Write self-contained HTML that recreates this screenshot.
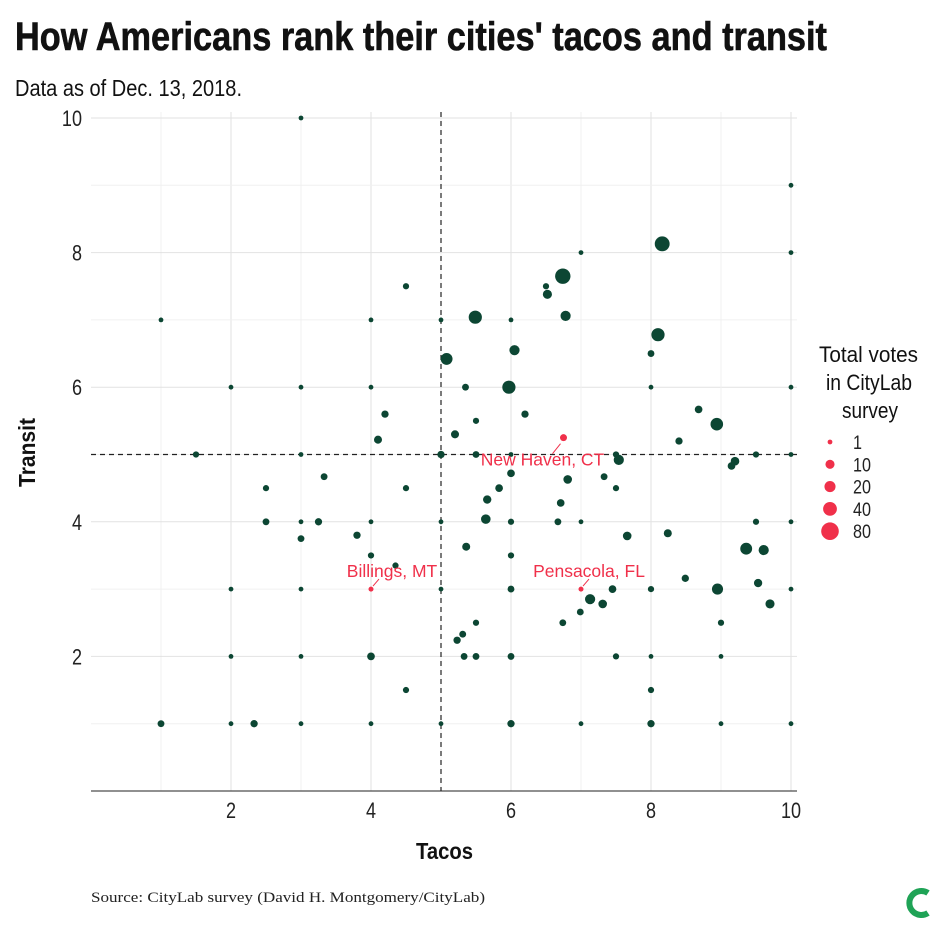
<!DOCTYPE html>
<html><head><meta charset="utf-8"><style>
body{margin:0;background:#fff;width:940px;height:926px;overflow:hidden}
svg text{font-family:"Liberation Sans Narrow","Liberation Sans",sans-serif}
</style></head><body>
<svg id="chart" width="940" height="926" xmlns="http://www.w3.org/2000/svg">
<text x="15" y="50" font-size="40" font-weight="bold" fill="#111" stroke="#111" stroke-width="0.6" textLength="812" lengthAdjust="spacingAndGlyphs">How Americans rank their cities' tacos and transit</text>
<text x="15" y="96" font-size="23" fill="#111" textLength="227" lengthAdjust="spacingAndGlyphs">Data as of Dec. 13, 2018.</text>
<g id="grid"></g>
<g id="refs"></g>
<g id="points"></g>
<g id="labels"></g>
<g id="axes"></g>
<text x="416" y="859" font-size="23" font-weight="bold" fill="#111" textLength="57" lengthAdjust="spacingAndGlyphs">Tacos</text>
<text transform="translate(35,487) rotate(-90)" font-size="23" font-weight="bold" fill="#111" textLength="69" lengthAdjust="spacingAndGlyphs">Transit</text>
<g id="legend">
<text x="819" y="362" font-size="22" fill="#111" textLength="99" lengthAdjust="spacingAndGlyphs">Total votes</text>
<text x="826" y="390" font-size="22" fill="#111" textLength="86" lengthAdjust="spacingAndGlyphs">in CityLab</text>
<text x="842" y="418" font-size="22" fill="#111" textLength="56" lengthAdjust="spacingAndGlyphs">survey</text>
</g>
<text x="91" y="902" font-size="15" fill="#222" style="font-family:'Liberation Serif',serif" textLength="394" lengthAdjust="spacingAndGlyphs">Source: CityLab survey (David H. Montgomery/CityLab)</text>
<g>
<path d="M928 893 A12 12 0 1 0 928 913" fill="none" stroke="#1fa356" stroke-width="6"/>
</g>
</svg>
<script>
const tacos=[3,10,7,10,8.16,6.74,6.5,6.52,1,4,5,6,5.49,6.78,8.1,6.05,5.08,8,5.97,2,3,4,5.35,8,10,4.2,6.2,8.68,5.5,8.94,4.1,5.2,8.4,1.5,3,5,5.5,6,7.5,9.5,10,7.54,9.2,9.15,6,6.81,7.33,7.5,5.83,5.66,5.64,6.71,2.5,3,3.25,4,5,6,6.67,7,9.5,10,7.66,8.24,3.8,3,5.36,6,9.36,9.61,4,4.35,8.49,2,3,5,6,7.45,8,8.95,10,9.53,9.7,7.13,7.31,6.99,6.74,9,5.5,5.31,5.23,2,3,4,5.33,5.5,6,7.5,8,9,8,4.5,1,2,2.33,3,4,5,6,7,8,9,10,3.33,2.5,4.5,4.5];
const transit=[10,9,8,8,8.13,7.65,7.5,7.38,7,7,7,7,7.04,7.06,6.78,6.55,6.42,6.5,6,6,6,6,6,6,6,5.6,5.6,5.67,5.5,5.45,5.22,5.3,5.2,5,5,5,5,5,5,5,5,4.92,4.9,4.83,4.72,4.63,4.67,4.5,4.5,4.33,4.04,4.28,4,4,4,4,4,4,4,4,4,4,3.79,3.83,3.8,3.75,3.63,3.5,3.6,3.58,3.5,3.35,3.16,3,3,3,3,3,3,3,3,3.09,2.78,2.85,2.78,2.66,2.5,2.5,2.5,2.33,2.24,2,2,2,2,2,2,2,2,2,1.5,1.5,1,1,1,1,1,1,1,1,1,1,1,4.67,4.5,4.5,7.5];
const votes=[1,1,1,1,50,55,2,10,1,1,1,1,35,15,35,15,25,3,35,1,1,1,3,1,1,4,4,5,2,30,6,6,4,2,1,4,3,1,2,2,1,15,8,5,5,8,3,2,5,7,12,5,3,1,4,1,1,2,3,1,2,1,8,6,4,3,6,2,25,15,2,2,4,1,1,1,3,5,2,20,1,7,10,15,8,3,3,2,2,3,4,1,1,5,3,3,3,2,1,1,2,2,3,1,4,1,1,1,4,1,4,1,1,3,2,2,2];
const cityNames=["New Haven, CT","Billings, MT","Pensacola, FL"];
const cityTacos=[6.75,4,7];
const cityTransit=[5.25,3,3];
const xTicks=[2,4,6,8,10];
const yTicks=[2,4,6,8,10];
const legendVotes=[1,10,20,40,80];
const NS="http://www.w3.org/2000/svg";
const X=v=>91+v*70, Y=v=>791-v*67.3;
const R=v=>2.4+6.4*Math.sqrt(Math.max(0,v-1)/79);
function mk(t,a,p){const e=document.createElementNS(NS,t);for(const k in a)e.setAttribute(k,a[k]);p.appendChild(e);return e;}
const grid=document.getElementById('grid');
for(let v=1;v<=10;v++){
 let l=mk('line',{x1:X(v),x2:X(v),y1:112,y2:791,stroke:v%2?'#f0f0f0':'#e2e2e2','stroke-width':1},grid);
 
 
 let h=mk('line',{x1:91,x2:797,y1:Y(v),y2:Y(v),stroke:v%2?'#f0f0f0':'#e2e2e2','stroke-width':1},grid);
 
 
}
const refs=document.getElementById('refs');
mk('line',{x1:X(5),x2:X(5),y1:112,y2:791,stroke:'#222','stroke-dasharray':'5,4','stroke-width':1.2},refs);
mk('line',{x1:91,x2:797,y1:Y(5),y2:Y(5),stroke:'#222','stroke-dasharray':'5,4','stroke-width':1.2},refs);
const pts=document.getElementById('points');
tacos.forEach((t,i)=>{
 const c=mk('circle',{cx:X(t),cy:Y(transit[i]),r:R(votes[i]),fill:'#0c4633'},pts);
 
 
});
const lab=document.getElementById('labels');
const lblDx=[-21,21,8], lblDy=[28,-12,-12], lnA=[[-3,6],[2,-3],[2,-3]], lnB=[[-11,16],[8,-10],[8,-10]];
cityNames.forEach((n,i)=>{
 const cx=X(cityTacos[i]),cy=Y(cityTransit[i]);
 const c=mk('circle',{cx:cx,cy:cy,r:i==0?3.5:2.5,fill:'#f0304a'},lab);
 
 
 mk('line',{x1:cx+lnA[i][0],y1:cy+lnA[i][1],x2:cx+lnB[i][0],y2:cy+lnB[i][1],stroke:'#f0304a'},lab);
 const t=mk('text',{x:cx+lblDx[i],y:cy+lblDy[i],'font-size':17.5,'text-anchor':'middle',fill:'#f0304a',style:"font-family:'Liberation Sans',sans-serif"},lab);
 t.textContent=n;
 
 
});
const axes=document.getElementById('axes');
mk('line',{x1:91,x2:797,y1:791,y2:791,stroke:'#222','stroke-width':1},axes);
xTicks.forEach(v=>{const t=mk('text',{x:X(v),y:818,'font-size':22,'text-anchor':'middle',fill:'#222',transform:`translate(${X(v)},0) scale(0.82,1) translate(${-X(v)},0)`},axes);t.textContent=v;
 
 });
yTicks.forEach(v=>{const t=mk('text',{x:82,y:Y(v)+8,'font-size':22,'text-anchor':'end',fill:'#222',transform:`translate(82,0) scale(0.82,1) translate(-82,0)`},axes);t.textContent=v;
 
 });
const leg=document.getElementById('legend');
legendVotes.forEach((v,i)=>{
 const y=442+i*22.3;
 const c=mk('circle',{cx:830,cy:y,r:R(v),fill:'#f0304a'},leg);
 
 
 const t=mk('text',{x:853,y:y+7,'font-size':19,fill:'#222',transform:`translate(853,0) scale(0.85,1) translate(-853,0)`},leg);t.textContent=v;
 
 
});
</script>
</body></html>
